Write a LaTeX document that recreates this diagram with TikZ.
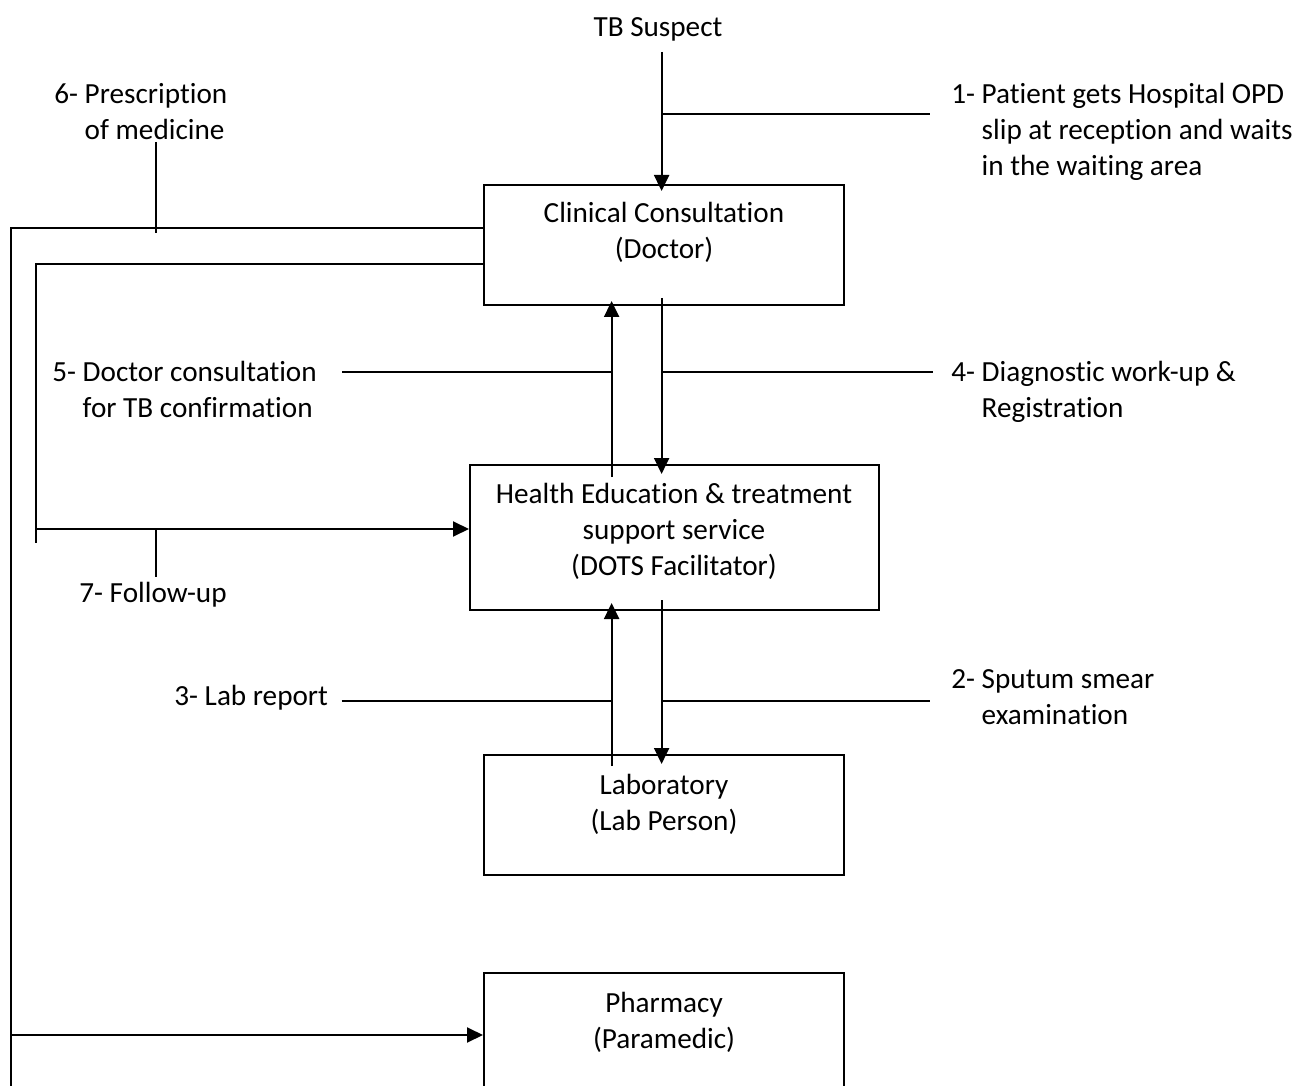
\documentclass[tikz,border=0pt]{standalone}
\usepackage{fontspec}
\setmainfont{Carlito}[Ligatures={NoCommon,NoRare}]
\usetikzlibrary{arrows.meta}
\begin{document}
\begin{tikzpicture}[x=0.5pt,y=-0.5pt,
  box/.style={draw,line width=1pt,minimum width=180pt,minimum height=60pt,inner sep=0pt},
  txt/.style={inner sep=0pt,font=\fontsize{14.6}{18}\selectfont},
  ln/.style={line width=1pt},
  arr/.style={line width=1pt,-{Triangle[length=8pt,width=7.5pt]}}]
\clip (0,0) rectangle (1298,1086);
\fill[white] (0,0) rectangle (1298,1086);
% boxes
\node[box] (cc) at (664,245) {};
\node[box,minimum width=204.5pt,minimum height=72.5pt] (he) at (674.5,537.5) {};
\node[box] (lab) at (664,815) {};
\node[box] (ph) at (664,1033) {};
% box texts
\node[txt,anchor=base] (cct) at (664,223) {\begin{tabular}[t]{@{}c@{}}Clinical Consultation\\(Doctor)\end{tabular}};
\node[txt,anchor=base] (het) at (674,503) {\begin{tabular}[t]{@{}c@{}}Health Education \& treatment\\support service\\(DOTS Facilitator)\end{tabular}};
\node[txt,anchor=base] (labt) at (664,794) {\begin{tabular}[t]{@{}c@{}}Laboratory\\(Lab Person)\end{tabular}};
\node[txt,anchor=base] (pht) at (664,1012) {\begin{tabular}[t]{@{}c@{}}Pharmacy\\(Paramedic)\end{tabular}};
% labels
\node[txt,anchor=base] (tb) at (658,37) {TB Suspect};
\node[txt,anchor=base west] (l6) at (54,104) {\begin{tabular}[t]{@{}l@{\ }l@{}}6-&Prescription\\&of medicine\end{tabular}};
\node[txt,anchor=base west] (l1) at (951,104) {\begin{tabular}[t]{@{}l@{\ }l@{}}1-&Patient gets Hospital OPD\\&slip at reception and waits\\&in the waiting area\end{tabular}};
\node[txt,anchor=base west] (l5) at (52,381) {\begin{tabular}[t]{@{}l@{\ }l@{}}5-&Doctor consultation\\&for TB confirmation\end{tabular}};
\node[txt,anchor=base west] (l4) at (951,381) {\begin{tabular}[t]{@{}l@{\ }l@{}}4-&Diagnostic work-up \&\\&Registration\end{tabular}};
\node[txt,anchor=base west] (l7) at (79,602) {7- Follow-up};
\node[txt,anchor=base west] (l3) at (174,705) {3- Lab report};
\node[txt,anchor=base west] (l2) at (951,688) {\begin{tabular}[t]{@{}l@{\ }l@{}}2-&Sputum smear\\&examination\end{tabular}};
% coordinates
\coordinate (tbs) at (661.6,52);
\coordinate (j1) at (661.6,114);
\coordinate (e1) at (930,114);
\coordinate (u1) at (611.6,477);
\coordinate (d1) at (661.6,298);
\coordinate (s5) at (342,372);
\coordinate (e4) at (933,372);
\coordinate (u2) at (611.6,766);
\coordinate (d2) at (661.6,600);
\coordinate (s3) at (341.6,701);
\coordinate (e2) at (930,701);
\coordinate (p6) at (11,228);
\coordinate (pb) at (11,1100);
\coordinate (pa) at (11,1035);
\coordinate (f7) at (36,264);
\coordinate (fb) at (36,543);
\coordinate (fa) at (36,529);
\coordinate (t6a) at (156,142);
\coordinate (t6b) at (156,233);
\coordinate (t7a) at (156,529);
\coordinate (t7b) at (156,577);
% connectors
\draw[arr,shorten >=-3.5pt] (tbs) -- (tbs |- cc.north);
\draw[ln] (j1) -- (e1);
\draw[arr,shorten >=-2.5pt] (u1) -- (u1 |- cc.south);
\draw[arr,shorten >=-5pt] (d1) -- (d1 |- he.north);
\draw[ln] (s5) -- (s5 -| u1);
\draw[ln] (e4 -| d1) -- (e4);
\draw[arr,shorten >=-4pt] (u2) -- (u2 |- he.south);
\draw[arr,shorten >=-5pt] (d2) -- (d2 |- lab.north);
\draw[ln] (s3) -- (s3 -| u2);
\draw[ln] (e2 -| d2) -- (e2);
\draw[ln] (p6 -| cc.west) -- (p6) -- (pb);
\draw[arr] (pa) -- (pa -| ph.west);
\draw[ln] (f7 -| cc.west) -- (f7) -- (fb);
\draw[arr] (fa) -- (fa -| he.west);
\draw[ln] (t6a) -- (t6b);
\draw[ln] (t7a) -- (t7b);
\end{tikzpicture}
\end{document}
